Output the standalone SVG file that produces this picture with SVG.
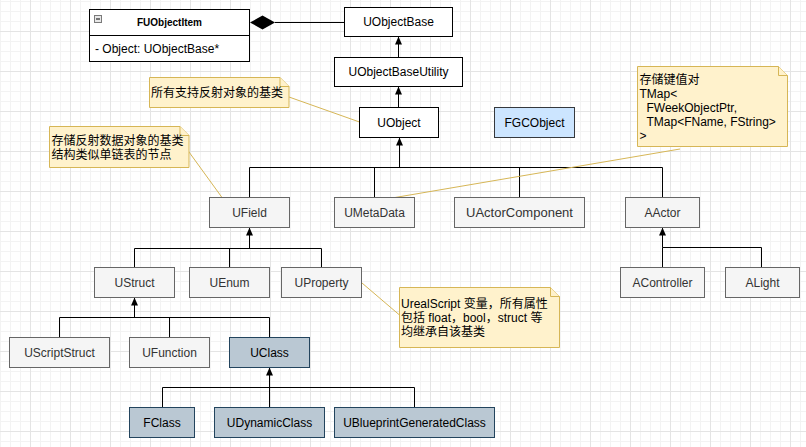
<svg xmlns="http://www.w3.org/2000/svg" width="806" height="447" viewBox="0 0 806 447">
<defs>
<pattern id="gMinor" patternUnits="userSpaceOnUse" x="0" y="1" width="10" height="10">
<path d="M0.5 0 V10 M0 0.5 H10" stroke="#f3f3f3" stroke-width="1" fill="none"/>
</pattern>
<pattern id="gMajor" patternUnits="userSpaceOnUse" x="30" y="31" width="40" height="40">
<path d="M0.5 0 V40 M0 0.5 H40" stroke="#e4e4e4" stroke-width="1" fill="none"/>
</pattern>
<marker id="arr" viewBox="0 0 8 7" refX="8" refY="3.5" markerWidth="8" markerHeight="7" markerUnits="userSpaceOnUse" orient="auto">
<path d="M0 0 L8 3.5 L0 7 Z" fill="#000"/>
</marker>
</defs>
<style>
text{font-family:"Liberation Sans","Noto Sans CJK SC",Arial,sans-serif;font-size:12px;}
.c{text-anchor:middle;}
.w{fill:#fff;stroke:#000;stroke-width:1;}
.g{fill:#f5f5f5;stroke:#666;stroke-width:1;}
.gt{fill:#333;}
.b{fill:#bac8d3;stroke:#23445d;stroke-width:1;}
.lb{fill:#cce5ff;stroke:#36393d;stroke-width:1;}
.note{fill:#fff2cc;stroke:#d6b656;stroke-width:1;}
.ln{fill:none;stroke:#000;stroke-width:1;}
.nl{fill:none;stroke:#d6b656;stroke-width:1;}
</style>
<rect width="806" height="447" fill="#fff"/>
<rect width="806" height="447" fill="url(#gMinor)"/>
<rect width="806" height="447" fill="url(#gMajor)"/>

<g id="connectors">
<path class="ln" d="M275 22.5 H344.5"/>
<polygon points="250,22.5 262.5,15.5 275,22.5 262.5,29.5" fill="#000"/>
<path class="ln" d="M398.5 57.5 V36.5" marker-end="url(#arr)"/>
<path class="ln" d="M398.5 107.5 V86.5" marker-end="url(#arr)"/>
<path class="ln" d="M249.5 197.5 V167.5 H662.5 V197.5 M374.5 197.5 V167.5 M519.5 197.5 V167.5"/>
<path class="ln" d="M399.5 167.5 V137.5" marker-end="url(#arr)"/>
<path class="ln" d="M134.5 267.5 V248.5 H321.5 V267.5 M229.5 267.5 V248.5"/>
<path class="ln" d="M249.5 248.5 V227.5" marker-end="url(#arr)"/>
<path class="ln" d="M662.5 267.5 V247.5 H761.5 V267.5"/>
<path class="ln" d="M662.5 247.5 V227.5" marker-end="url(#arr)"/>
<path class="ln" d="M59.5 337.5 V317.5 H269.5 V337.5 M169.5 337.5 V317.5"/>
<path class="ln" d="M134.5 317.5 V297.5" marker-end="url(#arr)"/>
<path class="ln" d="M162.5 407.5 V387.5 H414.5 V407.5"/>
<path class="ln" d="M269.5 407.5 V367.5" marker-end="url(#arr)"/>
<path class="nl" d="M289 97 L359.5 122"/>
<path class="nl" d="M189 152 L222 197.5"/>
<path class="nl" d="M680 149 L395 197.5"/>
<path class="nl" d="M362 283 L399.5 315"/>
</g>

<g id="FUObjectItem">
<rect x="89.5" y="9.5" width="160" height="52" fill="#fff" stroke="#000"/>
<path d="M89.5 35.5 H249.5" stroke="#000" fill="none"/>
<rect x="94.5" y="15.5" width="7" height="7" fill="#e8e8e8" stroke="#7a7a7a"/>
<path d="M96 19 H100" stroke="#000" stroke-width="1"/>
<text x="169.5" y="26" class="c" style="font-size:10px;font-weight:bold">FUObjectItem</text>
<text x="95" y="53">- Object: UObjectBase*</text>
</g>

<g id="UObjectBase"><rect class="w" x="344.5" y="7.5" width="108" height="29"/><text class="c" x="398.5" y="26">UObjectBase</text></g>
<g id="UObjectBaseUtility"><rect class="w" x="334.5" y="57.5" width="128" height="29"/><text class="c" x="398.5" y="76">UObjectBaseUtility</text></g>
<g id="UObject"><rect class="w" x="359.5" y="107.5" width="79" height="30"/><text class="c" x="399" y="127">UObject</text></g>
<g id="FGCObject"><rect class="lb" x="494.5" y="107.5" width="80" height="30"/><text class="c" x="534.5" y="127">FGCObject</text></g>

<g id="UField"><rect class="g" x="209.5" y="197.5" width="80" height="30"/><text class="c gt" x="249.5" y="217">UField</text></g>
<g id="UMetaData"><rect class="g" x="334.5" y="197.5" width="80" height="30"/><text class="c gt" x="374.5" y="217">UMetaData</text></g>
<g id="UActorComponent"><rect class="g" x="454.5" y="197.5" width="130" height="30"/><text class="c gt" x="519.5" y="217" style="font-size:13px">UActorComponent</text></g>
<g id="AActor"><rect class="g" x="625.5" y="197.5" width="74" height="30"/><text class="c gt" x="662.5" y="217">AActor</text></g>

<g id="UStruct"><rect class="g" x="94.5" y="267.5" width="80" height="30"/><text class="c gt" x="134.5" y="287">UStruct</text></g>
<g id="UEnum"><rect class="g" x="189.5" y="267.5" width="80" height="30"/><text class="c gt" x="229.5" y="287">UEnum</text></g>
<g id="UProperty"><rect class="g" x="281.5" y="267.5" width="80" height="30"/><text class="c gt" x="321.5" y="287">UProperty</text></g>
<g id="AController"><rect class="g" x="620.5" y="267.5" width="84" height="30"/><text class="c gt" x="662.5" y="287">AController</text></g>
<g id="ALight"><rect class="g" x="725.5" y="267.5" width="74" height="30"/><text class="c gt" x="762.5" y="287">ALight</text></g>

<g id="UScriptStruct"><rect class="g" x="9.5" y="337.5" width="100" height="30"/><text class="c gt" x="59.5" y="357">UScriptStruct</text></g>
<g id="UFunction"><rect class="g" x="129.5" y="337.5" width="80" height="30"/><text class="c gt" x="169.5" y="357">UFunction</text></g>
<g id="UClass"><rect class="b" x="229.5" y="337.5" width="80" height="30"/><text class="c" x="269.5" y="357">UClass</text></g>

<g id="FClass"><rect class="b" x="129.5" y="407.5" width="65" height="30"/><text class="c" x="162" y="427">FClass</text></g>
<g id="UDynamicClass"><rect class="b" x="214.5" y="407.5" width="110" height="30"/><text class="c" x="269.5" y="427">UDynamicClass</text></g>
<g id="UBlueprintGeneratedClass"><rect class="b" x="334.5" y="407.5" width="160" height="30"/><text class="c" x="414.5" y="427">UBlueprintGeneratedClass</text></g>

<g id="note1">
<path class="note" d="M149.5 77.5 H280 L289 86.5 V107.5 H149.5 Z"/>
<path class="note" d="M280 77.5 V86.5 H289"/>
<text x="151" y="97">所有支持反射对象的基类</text>
</g>
<g id="note2">
<path class="note" d="M49.5 126.5 H180 L189 135.5 V167.5 H49.5 Z"/>
<path class="note" d="M180 126.5 V135.5 H189"/>
<text x="51.5" y="145">存储反射数据对象的基类</text>
<text x="51.5" y="159">结构类似单链表的节点</text>
</g>
<g id="note3">
<path class="note" d="M637.5 66.5 H778.5 L787.5 75.5 V146.5 H637.5 Z"/>
<path class="note" d="M778.5 66.5 V75.5 H787.5"/>
<text x="639.5" y="84">存储键值对</text>
<text x="639.5" y="98">TMap&lt;</text>
<text x="646.5" y="112">FWeekObjectPtr,</text>
<text x="646.5" y="126">TMap&lt;FName, FString&gt;</text>
<text x="639.5" y="140">&gt;</text>
</g>
<g id="note4">
<path class="note" d="M399.5 287.5 H550.5 L559.5 296.5 V347.5 H399.5 Z"/>
<path class="note" d="M550.5 287.5 V296.5 H559.5"/>
<text x="401" y="308">UrealScript 变量，所有属性</text>
<text x="401" y="322">包括 float，bool，struct 等</text>
<text x="401" y="336">均继承自该基类</text>
</g>
</svg>
